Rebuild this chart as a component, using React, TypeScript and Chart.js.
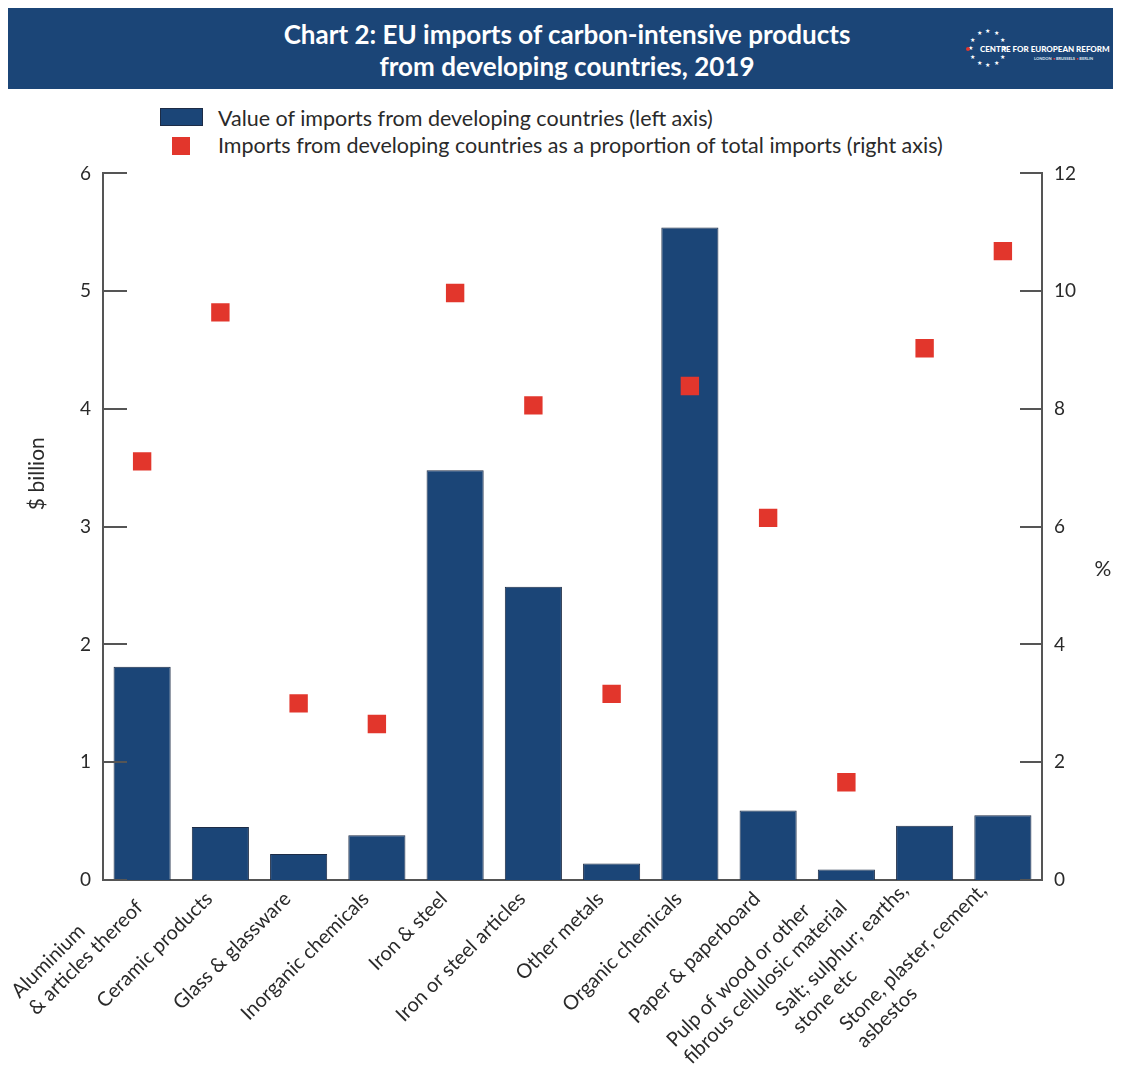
import React, { useEffect, useRef } from "react";
import { Chart, registerables } from "chart.js";
Chart.register(...registerables);

const categories: string[][] = [
  ["Aluminium", "& articles thereof"],
  ["Ceramic products"],
  ["Glass & glassware"],
  ["Inorganic chemicals"],
  ["Iron & steel"],
  ["Iron or steel articles"],
  ["Other metals"],
  ["Organic chemicals"],
  ["Paper & paperboard"],
  ["Pulp of wood or other", "fibrous cellulosic material"],
  ["Salt; sulphur; earths,", "stone etc"],
  ["Stone, plaster, cement,", "asbestos"],
];
const importValues = [1.81, 0.45, 0.22, 0.38, 3.48, 2.49, 0.14, 5.54, 0.59, 0.09, 0.46, 0.55];
const importShares = [7.11, 9.64, 3.0, 2.65, 9.97, 8.06, 3.16, 8.39, 6.15, 1.66, 9.03, 10.68];
const leftTicks = [0, 1, 2, 3, 4, 5, 6];
const rightTicks = [0, 2, 4, 6, 8, 10, 12];

const barLabel = "Value of imports from developing countries (left axis)";
const pointLabel = "Imports from developing countries as a proportion of total imports (right axis)";
const titleLines = ["Chart 2: EU imports of carbon-intensive products", "from developing countries, 2019"];
const leftTitle = "$ billion";
const rightTitle = "%";

const NAVY = "#1b4577";
const RED = "#e2362c";
const TEXT = "#2a2a2a";
const AXIS = "#555555";
const FONT = "Lato, 'Open Sans', sans-serif";

const decorPlugin = {
  id: "decor",
  afterDraw(chart: any) {
    const ctx = chart.ctx;
    const y = chart.scales.y;
    const y2 = chart.scales.y2;
    const x = chart.scales.x;
    ctx.save();
    ctx.strokeStyle = AXIS;
    ctx.lineWidth = 2;
    leftTicks.forEach((v) => {
      const py = Math.round(y.getPixelForValue(v));
      ctx.beginPath();
      ctx.moveTo(y.right, py);
      ctx.lineTo(y.right + 24, py);
      ctx.stroke();
    });
    rightTicks.forEach((v) => {
      const py = Math.round(y2.getPixelForValue(v));
      ctx.beginPath();
      ctx.moveTo(y2.left - 22, py);
      ctx.lineTo(y2.left, py);
      ctx.stroke();
    });
    // axis titles
    ctx.fillStyle = TEXT;
    ctx.font = `21px ${FONT}`;
    ctx.textAlign = "center";
    ctx.textBaseline = "middle";
    ctx.save();
    ctx.translate(29, y.getPixelForValue(3.45));
    ctx.rotate(-Math.PI / 2);
    ctx.fillText(leftTitle, 0, 0);
    ctx.restore();
    ctx.fillText(rightTitle, 1095, y2.getPixelForValue(5.28));
    // category labels
    ctx.font = `20px ${FONT}`;
    ctx.textAlign = "left";
    chart.data.labels.forEach((lines: string[], i: number) => {
      const px = x.getPixelForTick(i);
      const py = x.top;
      ctx.save();
      ctx.translate(px, py);
      ctx.rotate(-Math.PI / 4);
      const maxW = Math.max(...lines.map((l) => ctx.measureText(l).width));
      const lh = 24;
      const n = lines.length;
      lines.forEach((l, j) => {
        const v = 3 + (j - (n - 1) / 2) * lh;
        ctx.fillText(l, -19 - maxW, v);
      });
      ctx.restore();
    });
    ctx.restore();
  },
};

function Logo() {
  const stars = [];
  for (let i = 0; i < 12; i++) {
    const a = (i / 12) * Math.PI * 2;
    stars.push(
      <span
        key={i}
        style={{
          position: "absolute",
          left: 977 + Math.cos(a) * 17,
          top: 38 + Math.sin(a) * 17,
          color: "#fff",
          fontSize: 6,
          lineHeight: "6px",
        }}
      >
        ★
      </span>
    );
  }
  return (
    <>
      {stars}
      <span style={{ position: "absolute", left: 958, top: 40, width: 4, height: 4, borderRadius: 2, background: RED }} />
      <span
        style={{
          position: "absolute",
          left: 972,
          top: 37,
          color: "#fff",
          fontFamily: FONT,
          fontWeight: 900,
          fontSize: 8,
          whiteSpace: "nowrap",
        }}
      >
        CENTRE FOR EUROPEAN REFORM
      </span>
      <span
        style={{
          position: "absolute",
          left: 1026,
          top: 49,
          color: "#dfe6f0",
          fontFamily: FONT,
          fontWeight: 700,
          fontSize: 4,
          whiteSpace: "nowrap",
        }}
      >
        LONDON <span style={{ color: RED }}>•</span> BRUSSELS <span style={{ color: RED }}>•</span> BERLIN
      </span>
    </>
  );
}

export default function App() {
  const ref = useRef<HTMLCanvasElement | null>(null);

  useEffect(() => {
    if (!ref.current) return;
    const chart = new Chart(ref.current, {
      type: "bar",
      data: {
        labels: categories as any,
        datasets: [
          {
            type: "line",
            label: pointLabel,
            data: importShares,
            yAxisID: "y2",
            showLine: false,
            pointStyle: "rect",
            pointRadius: 13,
            pointBackgroundColor: RED,
            pointBorderWidth: 0,
            backgroundColor: RED,
            order: 0,
          } as any,
          {
            type: "bar",
            label: barLabel,
            data: importValues,
            yAxisID: "y",
            backgroundColor: NAVY,
            borderColor: "#1d2c46",
            borderWidth: 1,
            barPercentage: 0.73,
            categoryPercentage: 1,
            order: 1,
          },
        ],
      },
      options: {
        responsive: false,
        animation: false,
        devicePixelRatio: 1,
        layout: { padding: { top: 23, left: 0, right: 0, bottom: 0 } },
        plugins: { legend: { display: false }, tooltip: { enabled: false }, title: { display: false } },
        scales: {
          x: {
            grid: { display: false, drawTicks: false },
            border: { display: true, color: AXIS, width: 2 },
            ticks: { display: false },
            afterFit: (s: any) => {
              s.height = 192;
            },
          },
          y: {
            position: "left",
            min: 0,
            max: 6,
            grid: { display: false, drawTicks: false },
            border: { display: true, color: AXIS, width: 2 },
            ticks: {
              stepSize: 1,
              padding: 12,
              color: TEXT,
              font: { family: FONT, size: 19 },
            },
            afterFit: (s: any) => {
              s.width = 95;
            },
          },
          y2: {
            position: "right",
            min: 0,
            max: 12,
            grid: { display: false, drawTicks: false },
            border: { display: true, color: AXIS, width: 2 },
            ticks: {
              stepSize: 2,
              padding: 12,
              color: TEXT,
              font: { family: FONT, size: 19 },
            },
            afterFit: (s: any) => {
              s.width = 71;
            },
          },
        },
      } as any,
      plugins: [decorPlugin],
    });
    return () => chart.destroy();
  }, []);

  return (
    <div style={{ position: "relative", width: 1105, height: 1064, fontFamily: FONT }}>
      <div
        style={{
          position: "absolute",
          left: 0,
          top: -1,
          width: 1113,
          height: 82,
          background: NAVY,
          color: "#fff",
        }}
      >
        <div
          style={{
            position: "absolute",
            left: 0,
            width: 1118,
            top: 11,
            textAlign: "center",
            fontWeight: 700,
            fontSize: 26,
            lineHeight: "32px",
          }}
        >
          {titleLines.map((t) => (
            <div key={t}>{t}</div>
          ))}
        </div>
        <Logo />
      </div>
      <div style={{ position: "absolute", left: 152, top: 100, width: 43, height: 18, background: NAVY, border: "1px solid #1d2c46", boxSizing: "border-box" }} />
      <div style={{ position: "absolute", left: 210, top: 97, fontSize: 21.5, color: TEXT, lineHeight: "26px", whiteSpace: "nowrap" }}>
        {barLabel}
      </div>
      <div style={{ position: "absolute", left: 164, top: 129, width: 18, height: 18, background: RED }} />
      <div style={{ position: "absolute", left: 210, top: 124, fontSize: 21.5, color: TEXT, lineHeight: "26px", whiteSpace: "nowrap" }}>
        {pointLabel}
      </div>
      <canvas ref={ref} width={1105} height={922} style={{ position: "absolute", left: 0, top: 142 }} />
    </div>
  );
}
